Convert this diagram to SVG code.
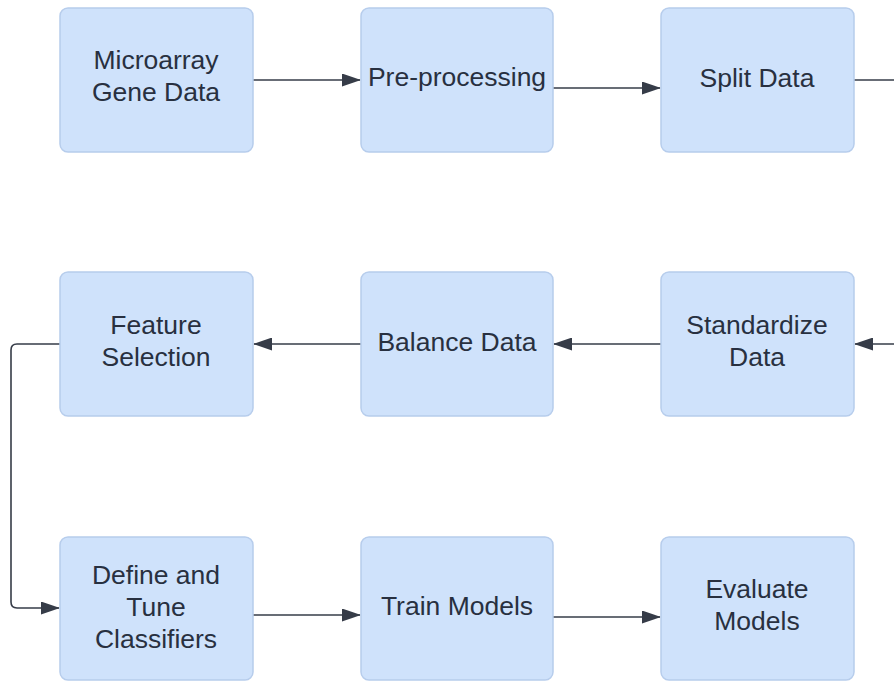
<svg xmlns="http://www.w3.org/2000/svg" width="894" height="681" viewBox="0 0 894 681">
  <style>
    .box { fill: #cfe2fb; stroke: #b7cdec; stroke-width: 1.5; }
    .lbl { font-family: "Liberation Sans", Arial, sans-serif; font-size: 26.5px; fill: #283040; text-anchor: middle; }
    .wire { fill: none; stroke: #363c48; stroke-width: 1.6; }
  </style>
  <defs>
    <marker id="arrow" viewBox="0 0 19 13" refX="18" refY="6.5" markerWidth="19" markerHeight="13" markerUnits="userSpaceOnUse" orient="auto">
      <path d="M0,0 L19,6.5 L0,13 Z" fill="#363c48"/>
    </marker>
  </defs>
  <rect width="894" height="681" fill="#ffffff"/>

  <g id="connectors">
    <path class="wire" d="M253,80 H360" marker-end="url(#arrow)"/>
    <path class="wire" d="M553,88 H660" marker-end="url(#arrow)"/>
    <path class="wire" d="M854,80 H894"/>
    <path class="wire" d="M894,344 H855" marker-end="url(#arrow)"/>
    <path class="wire" d="M661,344 H554" marker-end="url(#arrow)"/>
    <path class="wire" d="M361,344 H254" marker-end="url(#arrow)"/>
    <path class="wire" d="M60,344 H17 Q11,344 11,350 V602 Q11,608 17,608 H59" marker-end="url(#arrow)"/>
    <path class="wire" d="M253,615 H360" marker-end="url(#arrow)"/>
    <path class="wire" d="M553,617 H660" marker-end="url(#arrow)"/>
  </g>

  <g id="microarray">
    <rect class="box" x="60" y="8" width="193" height="144" rx="8"/>
    <text class="lbl" x="156" y="69">Microarray</text>
    <text class="lbl" x="156" y="101">Gene Data</text>
  </g>
  <g id="preprocessing">
    <rect class="box" x="361" y="8" width="192" height="144" rx="8"/>
    <text class="lbl" x="457" y="86">Pre-processing</text>
  </g>
  <g id="split">
    <rect class="box" x="661" y="8" width="193" height="144" rx="8"/>
    <text class="lbl" x="757" y="87">Split Data</text>
  </g>
  <g id="feature">
    <rect class="box" x="60" y="272" width="193" height="144" rx="8"/>
    <text class="lbl" x="156" y="334">Feature</text>
    <text class="lbl" x="156" y="366">Selection</text>
  </g>
  <g id="balance">
    <rect class="box" x="361" y="272" width="192" height="144" rx="8"/>
    <text class="lbl" x="457" y="351">Balance Data</text>
  </g>
  <g id="standardize">
    <rect class="box" x="661" y="272" width="193" height="144" rx="8"/>
    <text class="lbl" x="757" y="334">Standardize</text>
    <text class="lbl" x="757" y="366">Data</text>
  </g>
  <g id="define">
    <rect class="box" x="60" y="537" width="193" height="143" rx="8"/>
    <text class="lbl" x="156" y="584">Define and</text>
    <text class="lbl" x="156" y="616">Tune</text>
    <text class="lbl" x="156" y="648">Classifiers</text>
  </g>
  <g id="train">
    <rect class="box" x="361" y="537" width="192" height="143" rx="8"/>
    <text class="lbl" x="457" y="615">Train Models</text>
  </g>
  <g id="evaluate">
    <rect class="box" x="661" y="537" width="193" height="143" rx="8"/>
    <text class="lbl" x="757" y="598">Evaluate</text>
    <text class="lbl" x="757" y="630">Models</text>
  </g>
</svg>
